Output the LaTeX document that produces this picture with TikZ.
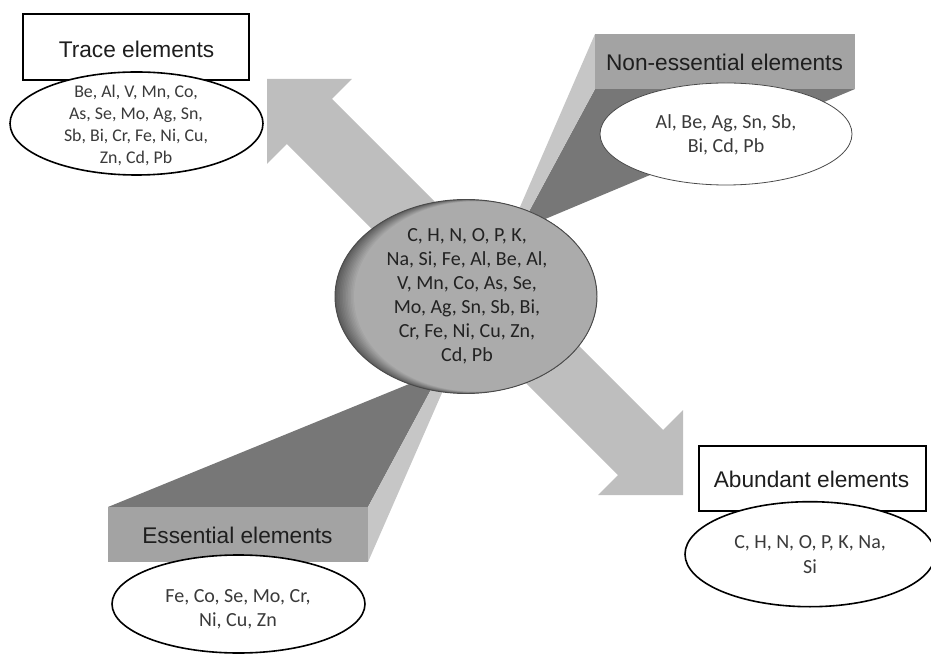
\documentclass[tikz,border=0pt]{standalone}
\usepackage{fontspec}
\setmainfont{Carlito}
\newfontfamily\labelfont{Liberation Sans}
\usetikzlibrary{shapes.geometric}
\definecolor{arrowgray}{HTML}{BEBEBE}
\definecolor{frontgray}{HTML}{A3A3A3}
\definecolor{lightside}{HTML}{C6C6C6}
\definecolor{darkside}{HTML}{777777}
\definecolor{coreface}{HTML}{ABABAB}
\definecolor{coredark}{HTML}{5C5C5C}
\definecolor{corerim}{HTML}{4A4A4A}
\definecolor{listtext}{HTML}{3A3A3A}
\definecolor{coretext}{HTML}{222222}
\definecolor{labeltext}{HTML}{1E1E1E}
\begin{document}
\begin{tikzpicture}[x=0.75pt,y=-0.75pt,
  frontface/.style={rectangle, fill=frontgray, draw=none, inner sep=0},
  labelbox/.style={rectangle, fill=white, draw=black, line width=1.4pt, inner sep=0},
  listell/.style={ellipse, fill=white, draw=black, line width=1.2pt, inner sep=0},
  thinell/.style={ellipse, fill=white, draw=corerim, line width=0.6pt, inner sep=0},
  lbl/.style={font=\labelfont\fontsize{17}{20}\selectfont, text=labeltext, inner sep=0, anchor=base},
  listtxt/.style={align=center, inner sep=0, text=listtext, font=\fontsize{15}{18.3}\selectfont},
]
\useasboundingbox (0,0) rectangle (931,655);

% block arrows
\fill[arrowgray] (267,79) -- (351.8,79) -- (332,98.8) -- (494.6,261.4) -- (449.4,306.6) -- (286.8,144) -- (267,163.8) -- cycle;
\fill[arrowgray] (683,495) -- (683,410.2) -- (663.2,430) -- (486.4,253.2) -- (441.2,298.4) -- (618,475.2) -- (598.2,495) -- cycle;

% non-essential 3D block
\fill[darkside] (595,89) -- (855,89) -- (519,230) -- cycle;
\fill[lightside] (595,34) -- (595,89) -- (519,230) -- (510,230) -- cycle;
\node[frontface, minimum width=195pt, minimum height=41.25pt] (nonEssBox) at (725,61.5) {};

% essential 3D block
\fill[darkside] (108,507) -- (368,507) -- (441,371) -- cycle;
\fill[lightside] (368,507) -- (368,562) -- (452,370) -- (441,371) -- cycle;
\node[frontface, minimum width=195pt, minimum height=41.25pt] (essBox) at (238,534.5) {};

% central ellipse: back rim, soft crescent, front face
\node[ellipse, fill=coredark, minimum width=196.5pt, minimum height=145.5pt, inner sep=0] (coreBack) at (466,296.5) {};
\foreach \i in {1,...,12}{
  \pgfmathsetmacro{\cx}{466+0.75*\i}
  \pgfmathsetmacro{\rw}{196.5-1.25*\i}
  \pgfmathsetmacro{\rh}{145.5-0.25*\i}
  \pgfmathsetmacro{\mix}{100*\i/12}
  \node[ellipse, fill=coreface!\mix!coredark, minimum width=\rw pt, minimum height=\rh pt, inner sep=0] at (\cx,296.5) {};
}
\node[ellipse, draw=corerim, line width=0.7pt, minimum width=196.5pt, minimum height=145.5pt, inner sep=0] (coreRim) at (466,296.5) {};
\node[align=center, inner sep=0, text=coretext, font=\fontsize{15}{18}\selectfont] (coreText) at (467,296)
  {C, H, N, O, P, K,\\ Na, Si, Fe, Al, Be, Al,\\ V, Mn, Co, As, Se,\\ Mo, Ag, Sn, Sb, Bi,\\ Cr, Fe, Ni, Cu, Zn,\\ Cd, Pb};

% trace elements
\node[labelbox, minimum width=169.5pt, minimum height=49.5pt] (traceBox) at (136,47) {};
\node[listell, minimum width=189.75pt, minimum height=77.25pt] (traceEll) at (136.5,123.5) {};
\node[lbl] (traceLbl) at (136.5,57.3) {Trace elements};
\node[listtxt, font=\fontsize{13.4}{16.5}\selectfont] (traceTxt) at (136,125)
  {Be, Al, V, Mn, Co,\\ As, Se, Mo, Ag, Sn,\\ Sb, Bi, Cr, Fe, Ni, Cu,\\ Zn, Cd, Pb};

% non-essential elements
\node[lbl] (nonEssLbl) at (724.5,71) {Non-essential elements};
\node[thinell, minimum width=189pt, minimum height=76.5pt] (nonEssEll) at (726,134) {};
\node[listtxt] (nonEssTxt) at (726,135) {Al, Be, Ag, Sn, Sb,\\ Bi, Cd, Pb};

% essential elements
\node[lbl] (essLbl) at (237.5,543) {Essential elements};
\node[listell, minimum width=189.75pt, minimum height=73.5pt] (essEll) at (238.5,604) {};
\node[listtxt] (essTxt) at (238,609.3) {Fe, Co, Se, Mo, Cr,\\ Ni, Cu, Zn};

% abundant elements
\node[labelbox, minimum width=170.25pt, minimum height=48.75pt] (abBox) at (812.5,478.5) {};
\node[listell, minimum width=187.5pt, minimum height=78.75pt] (abEll) at (810,554.2) {};
\node[lbl] (abLbl) at (811.5,487) {Abundant elements};
\node[listtxt] (abTxt) at (810,554.5) {C, H, N, O, P, K, Na,\\ Si};
\end{tikzpicture}
\end{document}
